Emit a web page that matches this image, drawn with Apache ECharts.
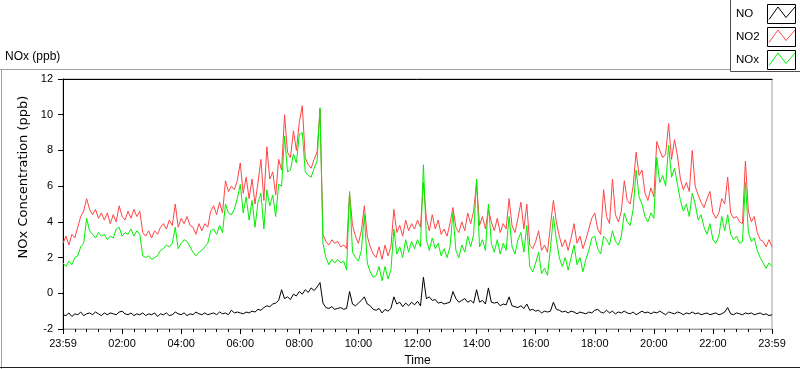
<!DOCTYPE html>
<html>
<head>
<meta charset="utf-8">
<script src="https://cdn.jsdelivr.net/npm/echarts/dist/echarts.min.js"></script>
<style>html,body{margin:0;padding:0;background:#fff}#c{width:800px;height:369px}</style>
</head>
<body>
<div id="c"></div>
<script>
// ---- data ----
const seriesNames = ['NO', 'NO2', 'NOx'];
const seriesColors = ['#000000', '#ff4545', '#00f000'];
const xTickLabels = ['23:59','02:00','04:00','06:00','08:00','10:00','12:00','14:00','16:00','18:00','20:00','22:00','23:59'];
const yTicks = [-2, 0, 2, 4, 6, 8, 10, 12];
const sampleStepMinutes = 6; // one sample every 6 minutes, starting at 23:59

const no = [
-1.2,-1.25,-1.1,-1.3,-1.15,-1.2,-1.05,-1.25,-1.15,-1.1,
-1.2,-1.05,-1.15,-1.25,-1.1,-1.2,-1.1,-1.15,-1.2,-1.05,
-1.0,-1.15,-1.2,-1.1,-1.25,-1.15,-1.2,-1.1,-1.25,-1.15,
-1.2,-1.1,-1.3,-1.15,-1.2,-1.1,-1.25,-1.2,-1.05,-1.15,
-1.2,-1.1,-1.25,-1.15,-1.2,-1.05,-1.15,-1.2,-1.1,-1.2,
-1.15,-1.1,-1.2,-1.05,-1.15,-1.1,-1.2,-0.95,-1.1,-1.05,
-1.1,-1.15,-1.05,-1.1,-1.0,-1.05,-0.9,-0.95,-0.8,-0.7,
-0.75,-0.6,-0.55,-0.4,0.2,-0.3,-0.2,-0.35,-0.05,-0.15,
0.1,-0.05,0.2,0.05,0.3,0.15,0.35,0.6,-0.55,-0.8,
-0.85,-0.75,-0.9,-0.85,-0.8,-0.9,-0.85,0.1,-0.6,-0.7,
-0.55,-0.4,-0.2,-0.6,-0.7,-0.9,-0.95,-0.85,-1.1,-0.9,
-1.0,-0.85,-0.2,-0.6,-0.5,-0.75,-0.55,-0.7,-0.5,-0.65,-0.45,
-0.7,0.9,-0.3,-0.2,-0.4,-0.35,-0.55,-0.5,-0.6,-0.55,
-0.5,0.1,-0.3,-0.5,-0.4,-0.3,-0.5,-0.4,-0.55,0.2,
-0.5,-0.4,-0.6,0.3,-0.5,-0.55,-0.5,-0.7,-0.6,-0.65,
-0.2,-0.7,-0.75,-0.8,-0.7,-0.85,-0.6,-0.95,-0.9,-1.0,
-0.95,-1.1,-1.0,-1.05,-1.0,-0.5,-0.9,-0.95,-1.05,-1.0,
-1.1,-1.0,-1.05,-1.15,-1.05,-1.1,-1.15,-1.05,-1.1,-0.95,
-0.9,-1.05,-1.1,-0.95,-1.1,-1.0,-1.15,-1.05,-1.1,-1.0,
-1.1,-1.15,-1.05,-1.2,-1.1,-1.0,-1.1,-1.05,-1.15,-1.05,
-1.1,-1.0,-1.1,-1.2,-1.05,-1.1,-1.15,-1.05,-1.1,-1.2,
-1.1,-1.15,-1.05,-1.15,-1.1,-1.2,-1.15,-1.1,-1.2,-1.15,
-1.1,-1.2,-1.15,-1.05,-0.8,-1.15,-1.2,-1.1,-1.15,-1.2,
-1.1,-1.15,-1.1,-1.2,-1.15,-1.1,-1.2,-1.15,-1.25,-1.2
];

const no2 = [
2.8,3.2,2.7,3.3,3.1,3.7,4.3,4.6,5.3,4.7,
4.4,4.7,4.2,4.5,4.1,4.5,3.9,4.4,4.0,4.9,
4.3,4.1,4.6,4.2,4.7,4.3,4.6,3.4,3.2,3.5,
3.1,3.5,3.3,3.7,3.9,3.6,4.1,3.8,5.0,3.7,
4.2,3.9,4.3,3.8,3.7,3.3,3.9,3.5,3.9,3.7,
4.6,4.9,4.4,5.1,4.5,6.3,5.7,6.0,5.8,6.3,
7.3,5.6,6.5,5.3,6.4,5.0,6.2,7.5,5.2,8.2,
6.4,6.8,5.5,7.5,6.9,10.0,7.9,7.6,9.1,8.0,
9.6,10.5,7.6,7.2,7.0,7.5,7.9,10.3,3.3,2.9,
2.7,3.0,2.8,2.9,2.6,2.7,2.5,5.6,3.8,3.2,
2.8,3.5,4.9,3.2,2.6,2.2,2.0,2.6,1.9,2.7,
2.1,2.6,4.7,3.4,3.8,3.2,4.1,3.5,3.9,3.6,4.1,
3.7,6.2,4.2,3.5,4.4,3.6,4.1,3.3,3.6,3.2,
3.9,4.8,3.7,3.4,4.0,3.5,4.5,3.9,4.6,6.2,
3.8,4.3,3.6,4.7,4.0,3.5,4.2,3.4,3.9,3.6,
5.3,3.8,3.4,4.2,5.1,3.6,5.0,2.7,2.5,2.9,
3.5,2.4,2.7,2.3,3.8,5.2,4.0,3.2,2.6,3.0,
2.4,3.1,3.9,2.8,3.2,2.5,3.0,3.6,4.2,4.5,
3.6,3.3,5.8,4.3,3.9,6.4,4.4,4.0,4.6,6.3,
5.2,5.0,6.0,7.9,6.6,6.9,5.6,5.2,5.9,5.4,
8.5,8.0,7.6,7.8,9.5,7.5,8.6,7.7,6.4,5.8,
6.2,5.7,8.0,6.0,5.5,5.1,4.8,5.3,5.7,4.5,
4.2,4.5,5.3,5.0,6.5,4.5,4.2,4.3,4.0,3.9,
7.4,4.6,4.0,4.3,3.4,3.0,2.9,2.6,3.0,2.6
];

const nox = [
1.7,1.5,1.8,1.6,2.0,2.1,2.6,2.8,4.2,3.5,
3.3,3.1,3.4,3.2,3.3,3.0,3.2,3.1,3.6,3.7,
3.2,3.4,3.3,3.6,3.2,3.5,3.3,2.1,2.0,2.1,
1.9,2.0,2.1,2.4,2.5,2.7,2.6,2.8,3.7,2.5,
2.8,3.0,2.9,2.6,2.3,2.1,2.3,2.4,2.6,2.8,
3.5,3.6,3.3,3.8,3.4,5.0,4.5,4.4,4.7,5.3,
6.1,4.5,5.4,4.1,5.2,3.7,5.1,5.6,3.6,5.8,
4.9,5.5,4.3,6.1,6.0,8.8,6.8,6.9,7.8,7.3,
8.9,9.0,6.8,6.6,6.5,7.0,7.4,10.4,2.8,2.0,
1.6,1.9,1.7,1.9,1.7,1.8,1.3,5.7,2.3,2.0,
1.8,2.4,4.4,1.7,1.2,0.9,1.0,1.5,0.7,1.5,
0.8,1.3,3.6,2.2,2.6,2.0,3.0,2.3,2.9,2.5,3.0,
2.6,7.2,3.0,2.4,3.1,2.5,2.8,2.1,2.5,2.0,
2.6,4.5,2.4,2.0,2.7,2.3,3.2,2.6,3.3,6.4,
2.6,3.0,2.4,5.0,2.8,2.3,3.0,2.2,2.8,2.4,
4.3,2.6,2.2,3.0,3.4,2.3,3.8,1.5,1.2,1.7,
2.3,1.1,1.4,1.0,2.5,4.3,3.0,2.0,1.5,2.0,
1.3,2.0,2.7,1.6,2.0,1.2,1.9,2.4,3.1,3.2,
2.5,2.2,3.2,3.0,2.7,3.5,2.9,2.7,3.2,4.5,
4.0,3.8,4.7,6.9,5.4,5.0,4.3,4.0,4.5,4.2,
7.6,6.2,6.6,6.0,8.3,6.5,7.0,6.1,5.2,4.6,
5.0,4.3,5.6,5.0,4.1,4.4,3.7,3.3,3.9,3.0,
2.8,3.2,4.3,3.5,4.4,3.3,3.0,3.2,2.8,2.9,
6.2,3.4,2.9,3.1,2.4,2.0,1.7,1.4,1.7,1.5
];

// ---- chart ----
const seriesValues = [no, no2, nox];
const pairs = vals => vals.map((v, i) => [i * sampleStepMinutes, v]);
const tickInterval = 120;
const txt = '#000';

// legend sample boxes (frame + zigzag) drawn as decoration
const legendBoxTops = [4.5, 27.5, 50.5];
const legendDeco = [];
legendBoxTops.forEach((top, k) => {
  legendDeco.push({type: 'rect', z: 2, shape: {x: 767.5, y: top, width: 28, height: 19},
    style: {fill: '#fff', stroke: '#000', lineWidth: 1}});
  legendDeco.push({type: 'polyline', z: 3,
    shape: {points: [[769, top + 15], [778, top + 2.5], [786, top + 13], [795, top + 2.5]]},
    style: {fill: null, stroke: seriesColors[k], lineWidth: 1}});
});

const chart = echarts.init(document.getElementById('c'), null, {renderer: 'canvas'});
chart.setOption({
  animation: false,
  backgroundColor: '#fff',
  title: {
    text: 'NOx (ppb)', left: 5, top: 51, padding: 0,
    textStyle: {fontFamily: 'Liberation Sans', fontSize: 12, fontWeight: 'normal', color: txt}
  },
  legend: {
    orient: 'vertical', left: 731, top: 7, padding: 0,
    align: 'left', itemWidth: 0, itemHeight: 13, itemGap: 10,
    icon: 'rect',
    itemStyle: {color: 'transparent', borderWidth: 0},
    formatter: '{a|{name}}',
    textStyle: {fontFamily: 'Liberation Sans', fontSize: 11.5, color: txt,
      rich: {a: {fontFamily: 'Liberation Sans', fontSize: 11.5, color: txt, align: 'left'}}},
    selectedMode: false, z: 10,
    data: seriesNames
  },
  graphic: [
    {type: 'line', z: 0, shape: {x1: 0, y1: 69.5, x2: 731, y2: 69.5}, style: {stroke: '#a0a0a0', lineWidth: 1}},
    {type: 'line', z: 0, shape: {x1: 1.5, y1: 69.5, x2: 1.5, y2: 369}, style: {stroke: '#a0a0a0', lineWidth: 1}},
    {type: 'line', z: 0, shape: {x1: 0, y1: 367.5, x2: 800, y2: 367.5}, style: {stroke: '#202020', lineWidth: 1}},
    {type: 'rect', z: 1, shape: {x: 730.5, y: -2, width: 80, height: 73.5}, style: {fill: '#fff', stroke: '#505050', lineWidth: 1}}
  ].concat(legendDeco),
  grid: {
    left: 63, right: 28, top: 79, bottom: 40,
    show: true, borderColor: '#a0a0a0', borderWidth: 1,
    containLabel: false, outerBoundsMode: 'none'
  },
  xAxis: [{
    type: 'value', min: 0, max: 1440, interval: tickInterval,
    axisLine: {show: true, onZero: false, lineStyle: {color: '#a0a0a0', width: 1}},
    axisTick: {show: true, length: 5, lineStyle: {color: '#000'}},
    minorTick: {show: true, splitNumber: 5, length: 3, lineStyle: {color: '#000'}},
    splitLine: {show: false}, minorSplitLine: {show: false},
    axisLabel: {
      margin: 9, color: txt, fontFamily: 'Liberation Sans', fontSize: 11,
      showMinLabel: true, showMaxLabel: true, hideOverlap: false,
      formatter: v => xTickLabels[Math.round(v / tickInterval)]
    },
    name: 'Time', nameLocation: 'middle', nameGap: 26,
    nameTextStyle: {fontFamily: 'Liberation Sans', fontSize: 12, color: txt}
  }, {
    type: 'value', position: 'top', min: 0, max: 1440,
    axisLine: {show: true, onZero: false, lineStyle: {color: '#000', width: 1}},
    axisTick: {show: false}, axisLabel: {show: false}, splitLine: {show: false}
  }],
  yAxis: {
    type: 'value', min: yTicks[0], max: yTicks[yTicks.length - 1], interval: 2,
    axisLine: {show: true, onZero: false, lineStyle: {color: '#000', width: 1}},
    axisTick: {show: true, length: 5, lineStyle: {color: '#000'}},
    splitLine: {show: false},
    axisLabel: {margin: 10, color: txt, fontFamily: 'Liberation Sans', fontSize: 11, showMinLabel: true, showMaxLabel: true},
    name: 'NOx Concentration (ppb)', nameLocation: 'middle', nameGap: 25,
    nameTextStyle: {fontFamily: 'DejaVu Sans', fontSize: 13, color: txt, padding: [0, 0, 0, 54]}
  },
  series: seriesNames.map((name, k) => ({
    name: name, type: 'line', xAxisIndex: 0,
    data: pairs(seriesValues[k]),
    showSymbol: false, symbol: 'none',
    color: seriesColors[k],
    lineStyle: {color: seriesColors[k], width: 1},
    z: 2 + k
  }))
});
</script>
</body>
</html>
